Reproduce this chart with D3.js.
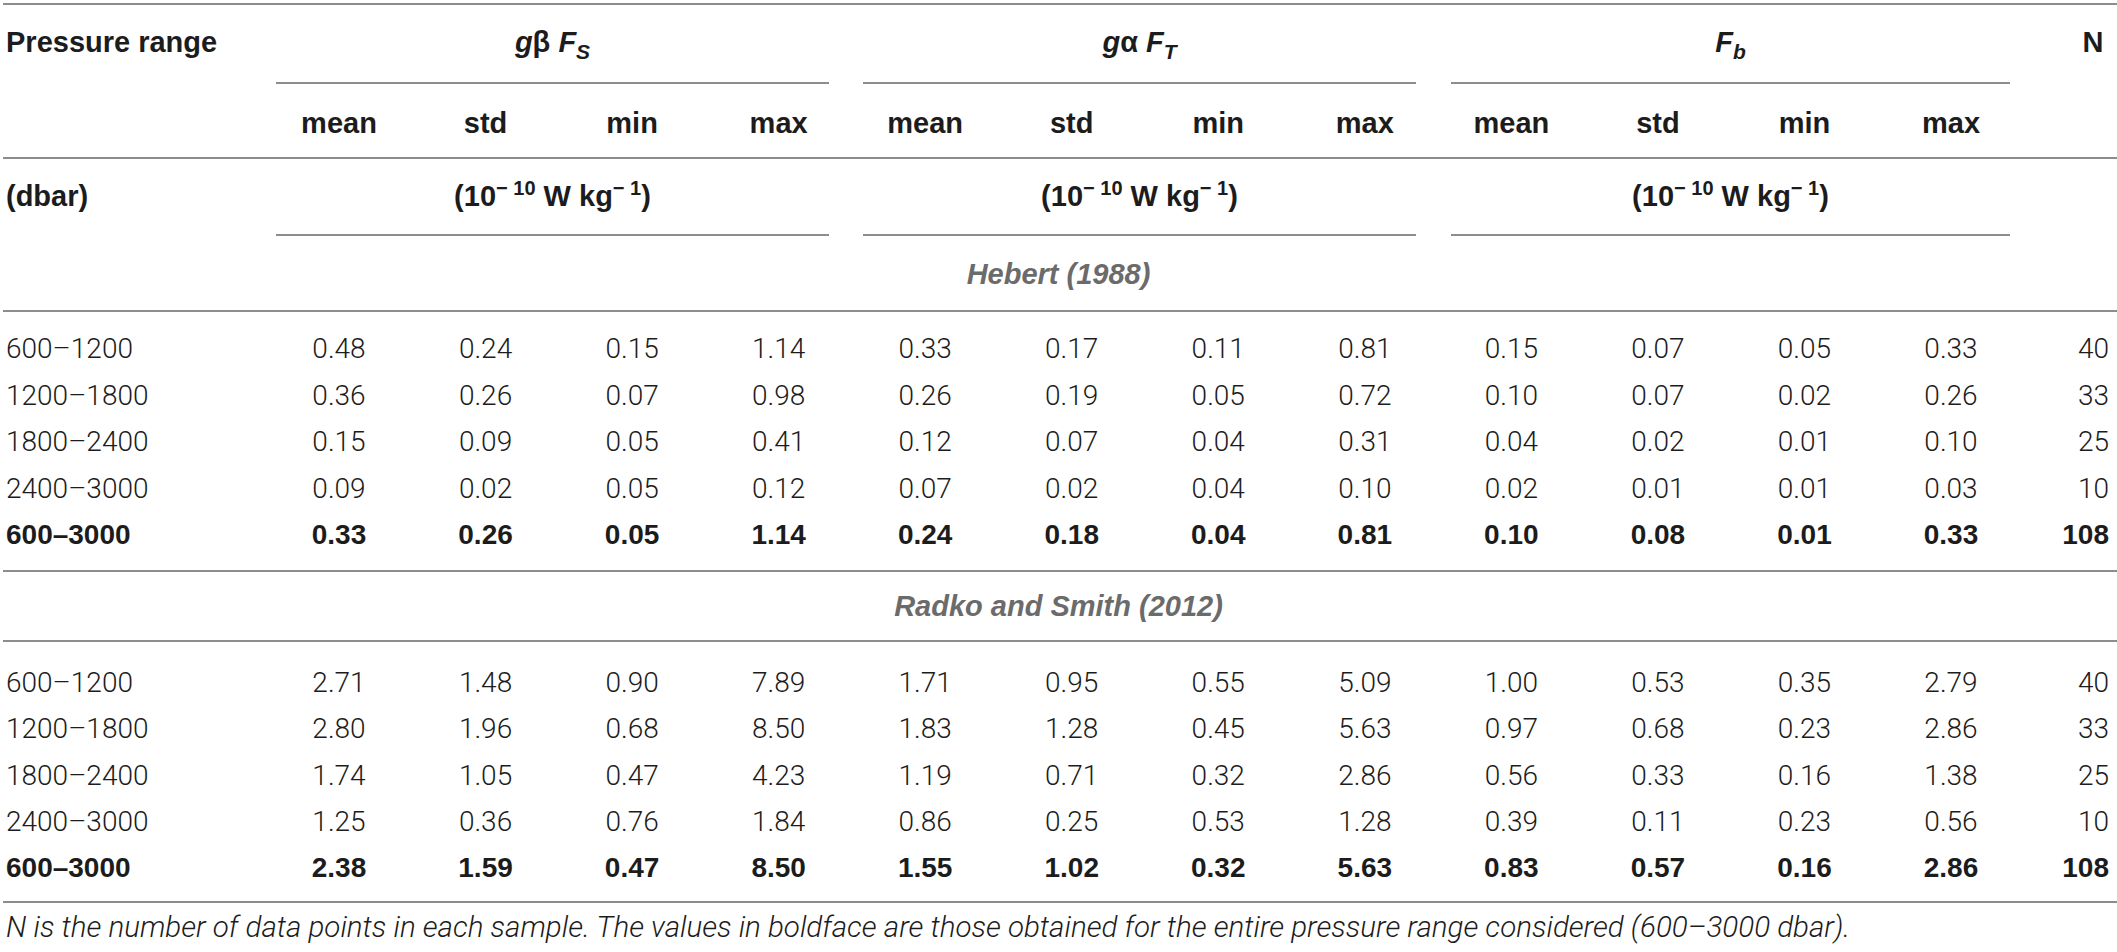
<!DOCTYPE html>
<html>
<head>
<meta charset="utf-8">
<script src="https://cdn.jsdelivr.net/npm/d3@7"></script>
<style>
  html, body { margin: 0; padding: 0; background: #fff; }
  svg { display: block; }
</style>
</head>
<body>
<svg id="chart"></svg>
<script>
// ---------------- DATA ----------------
const pressureRanges = ["600–1200", "1200–1800", "1800–2400", "2400–3000", "600–3000"];
const nPoints = [40, 33, 25, 10, 108];
const statLabels = ["mean", "std", "min", "max"];
const sectionTitles = ["Hebert (1988)", "Radko and Smith (2012)"];
const footnote = "N is the number of data points in each sample. The values in boldface are those obtained for the entire pressure range considered (600–3000 dbar).";

// Hebert (1988): rows = pressure ranges, cols = mean, std, min, max
const hebertFS = [[0.48, 0.24, 0.15, 1.14], [0.36, 0.26, 0.07, 0.98], [0.15, 0.09, 0.05, 0.41], [0.09, 0.02, 0.05, 0.12], [0.33, 0.26, 0.05, 1.14]];
const hebertFT = [[0.33, 0.17, 0.11, 0.81], [0.26, 0.19, 0.05, 0.72], [0.12, 0.07, 0.04, 0.31], [0.07, 0.02, 0.04, 0.10], [0.24, 0.18, 0.04, 0.81]];
const hebertFb = [[0.15, 0.07, 0.05, 0.33], [0.10, 0.07, 0.02, 0.26], [0.04, 0.02, 0.01, 0.10], [0.02, 0.01, 0.01, 0.03], [0.10, 0.08, 0.01, 0.33]];
// Radko and Smith (2012)
const radkoFS = [[2.71, 1.48, 0.90, 7.89], [2.80, 1.96, 0.68, 8.50], [1.74, 1.05, 0.47, 4.23], [1.25, 0.36, 0.76, 1.84], [2.38, 1.59, 0.47, 8.50]];
const radkoFT = [[1.71, 0.95, 0.55, 5.09], [1.83, 1.28, 0.45, 5.63], [1.19, 0.71, 0.32, 2.86], [0.86, 0.25, 0.53, 1.28], [1.55, 1.02, 0.32, 5.63]];
const radkoFb = [[1.00, 0.53, 0.35, 2.79], [0.97, 0.68, 0.23, 2.86], [0.56, 0.33, 0.16, 1.38], [0.39, 0.11, 0.23, 0.56], [0.83, 0.57, 0.16, 2.86]];

// ---------------- LAYOUT ----------------
const W = 2117, H = 952;
const svg = d3.select("#chart").attr("width", W).attr("height", H);
svg.append("rect").attr("width", W).attr("height", H).attr("fill", "#fff");

const LIGHT = "Roboto, 'Liberation Sans', sans-serif";
const BOLD = "'Liberation Sans', Arial, sans-serif";
const lineColor = "#8d8d8d";
const textColor = "#1c1c1c";

const x = d3.scaleLinear().domain([0, 11]).range([339, 1951]);   // 12 stat columns
const xN = 2093;
const xNRight = 2109;
const xLabel = 6;
const groupSpans = [[276, 829], [863, 1416], [1451, 2010]];
const fmt = d3.format(".2f");

function hline(y, x0 = 3, x1 = W) {
  svg.append("line").attr("x1", x0).attr("x2", x1).attr("y1", y).attr("y2", y)
    .attr("stroke", lineColor).attr("stroke-width", 2);
}

// horizontal rules
hline(4);
groupSpans.forEach(s => hline(83, s[0], s[1]));
hline(158);
groupSpans.forEach(s => hline(235, s[0], s[1]));
hline(311);
hline(571);
hline(641);
hline(902);

// ---------------- HEADERS ----------------
const hdr = svg.append("g").attr("font-family", BOLD).attr("font-weight", 700)
  .attr("font-size", 29).attr("fill", textColor);

hdr.append("text").attr("x", xLabel).attr("y", 52).text("Pressure range");
hdr.append("text").attr("x", xN).attr("y", 52).attr("text-anchor", "middle").text("N");
hdr.append("text").attr("x", xLabel).attr("y", 206).text("(dbar)");

// group titles
const groupTitles = [
  [{t: "g", i: true}, {t: "β ", i: false}, {t: "F", i: true}, {t: "S", i: true, sub: true}],
  [{t: "g", i: true}, {t: "α ", i: false}, {t: "F", i: true}, {t: "T", i: true, sub: true}],
  [{t: "F", i: true}, {t: "b", i: true, sub: true}]
];
groupSpans.forEach((s, gi) => {
  const t = hdr.append("text").attr("x", (s[0] + s[1]) / 2).attr("y", 52).attr("text-anchor", "middle");
  groupTitles[gi].forEach(p => {
    const ts = t.append("tspan").text(p.t).attr("font-style", p.i ? "italic" : "normal");
    if (p.sub) ts.attr("font-size", 21).attr("dy", 7);
  });
  // units
  const u = hdr.append("text").attr("x", (s[0] + s[1]) / 2).attr("y", 206).attr("text-anchor", "middle");
  u.append("tspan").text("(10");
  u.append("tspan").text("− 10").attr("font-size", 20).attr("dy", -11);
  u.append("tspan").text(" W kg").attr("dy", 11);
  u.append("tspan").text("− 1").attr("font-size", 20).attr("dy", -11);
  u.append("tspan").text(")").attr("dy", 11);
});

// stat labels
hdr.selectAll("text.stat").data(d3.range(12)).join("text")
  .attr("class", "stat")
  .attr("x", d => x(d)).attr("y", 133).attr("text-anchor", "middle")
  .text(d => statLabels[d % 4]);

// ---------------- SECTIONS ----------------
const sections = [
  {title: sectionTitles[0], titleY: 284, rows: [348, 534], data: [hebertFS, hebertFT, hebertFb]},
  {title: sectionTitles[1], titleY: 616, rows: [682, 867], data: [radkoFS, radkoFT, radkoFb]}
];

sections.forEach(sec => {
  svg.append("text").attr("x", W / 2).attr("y", sec.titleY).attr("text-anchor", "middle")
    .attr("font-family", BOLD).attr("font-weight", 700).attr("font-style", "italic")
    .attr("font-size", 29).attr("fill", "#6b6b6b").text(sec.title);

  const y = d3.scaleLinear().domain([0, pressureRanges.length - 1]).range(sec.rows);
  const rows = pressureRanges.map((r, i) => ({
    label: r, n: nPoints[i], bold: i === pressureRanges.length - 1,
    vals: [].concat(sec.data[0][i], sec.data[1][i], sec.data[2][i])
  }));

  const g = svg.append("g");
  const rowG = g.selectAll("g.row").data(rows).join("g")
    .attr("class", "row")
    .attr("transform", (d, i) => `translate(0,${y(i)})`)
    .attr("fill", textColor)
    .attr("font-family", d => d.bold ? BOLD : LIGHT)
    .attr("font-weight", d => d.bold ? 700 : 300)
    .attr("font-size", 28);

  rowG.append("text").attr("x", xLabel).attr("dy", "0.36em").text(d => d.label);
  rowG.selectAll("text.v").data(d => d.vals).join("text")
    .attr("class", "v")
    .attr("x", (v, j) => x(j)).attr("dy", "0.36em").attr("text-anchor", "middle")
    .text(v => fmt(v));
  rowG.append("text").attr("x", xNRight).attr("dy", "0.36em").attr("text-anchor", "end").text(d => d.n);
});

// ---------------- FOOTNOTE ----------------
const fn = svg.append("text").attr("x", xLabel).attr("y", 937)
  .attr("font-family", LIGHT).attr("font-weight", 300).attr("font-style", "italic")
  .attr("font-size", 26).attr("fill", textColor).text(footnote);
const targetW = 1845;
const len = fn.node().getComputedTextLength();
if (len > 0) fn.attr("font-size", 26 * targetW / len);
</script>
</body>
</html>
